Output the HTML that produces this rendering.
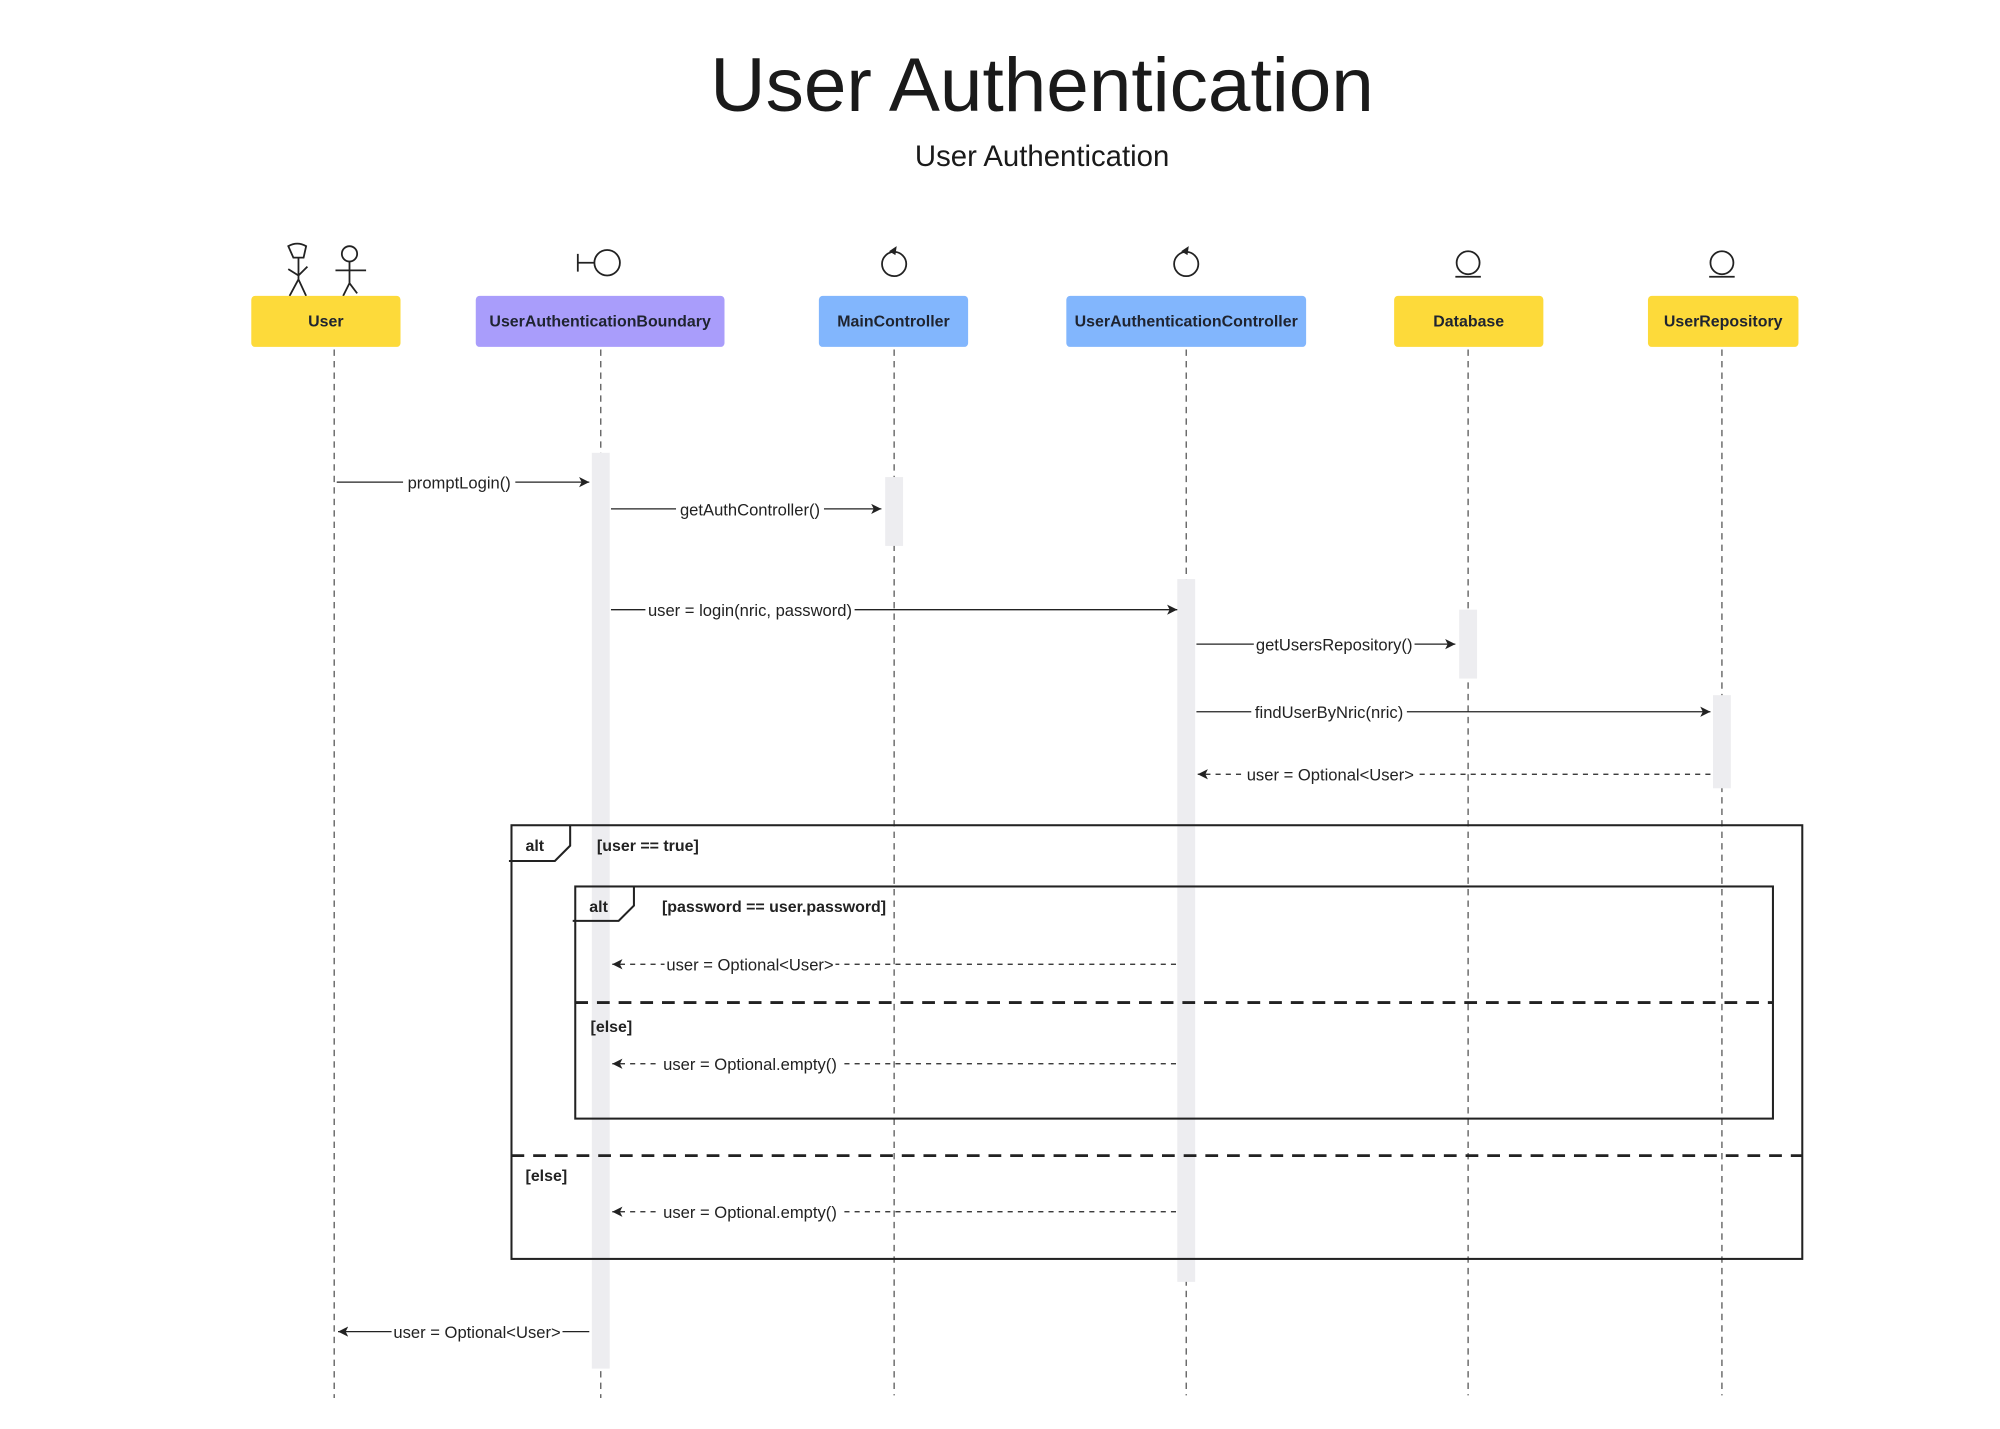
<!DOCTYPE html>
<html><head><meta charset="utf-8"><style>
html,body{margin:0;padding:0;background:#fff;}
svg{display:block;}
text{font-family:"Liberation Sans",sans-serif;fill:#222;}
.lbl{font-size:12.5px;font-weight:bold;text-anchor:middle;fill:#1f2430;}
.msg{font-size:13px;text-anchor:middle;}
.g{font-size:12.5px;font-weight:bold;}
</style></head><body>
<svg width="2000" height="1429" viewBox="0 0 1568 1120.35" xmlns="http://www.w3.org/2000/svg">
<defs>
<marker id="a" markerWidth="10" markerHeight="10" refX="8" refY="4" orient="auto" markerUnits="userSpaceOnUse"><path d="M0,0 L8,4 L0,8 L2,4 z" fill="#222"/></marker>
</defs>
<text x="817" y="87" font-size="60" text-anchor="middle" style="fill:#1a1a1a">User Authentication</text>
<text x="817" y="130" font-size="23" text-anchor="middle" style="fill:#1a1a1a">User Authentication</text>

<!-- icons -->
<g stroke="#222" stroke-width="1.4" fill="none">
<path d="M226,193 Q233,189 240,193 L238,202 L230,202 Z"/><path d="M234,202 V219 M226,211 L234,216 L241,209 M234,219 L227,232 M234,219 L240,232"/>
<circle cx="274" cy="199" r="6"/><path d="M274,205 V222 M263,212 H287 M274,222 L269,232 M274,222 L280,230"/>
<path d="M453,199 V213 M453,206 H466"/><circle cx="476" cy="206" r="10"/>
<circle cx="701" cy="207" r="9.5"/><circle cx="930" cy="207" r="9.5"/>
<circle cx="1151" cy="206" r="9"/><path d="M1141,217 H1161"/>
<circle cx="1350" cy="206" r="9"/><path d="M1340,217 H1360"/>
</g>
<path d="M697,197 L703,193 L702,200 Z" fill="#222"/><path d="M926,197 L932,193 L931,200 Z" fill="#222"/>

<!-- boxes -->
<rect x="197" y="232" width="117" height="40" rx="3" fill="#fdda3a"/>
<text class="lbl" x="255.5" y="256">User</text>
<rect x="373" y="232" width="195" height="40" rx="3" fill="#a99dfb"/>
<text class="lbl" x="470.5" y="256">UserAuthenticationBoundary</text>
<rect x="642" y="232" width="117" height="40" rx="3" fill="#82b6fd"/>
<text class="lbl" x="700.5" y="256">MainController</text>
<rect x="836" y="232" width="188" height="40" rx="3" fill="#82b6fd"/>
<text class="lbl" x="930" y="256">UserAuthenticationController</text>
<rect x="1093" y="232" width="117" height="40" rx="3" fill="#fdda3a"/>
<text class="lbl" x="1151.5" y="256">Database</text>
<rect x="1292" y="232" width="118" height="40" rx="3" fill="#fdda3a"/>
<text class="lbl" x="1351" y="256">UserRepository</text>

<!-- lifelines -->
<g stroke="#555" stroke-width="1" stroke-dasharray="5,4">
<path d="M262,274 V1096 M471,274 V1096 M701,274 V1094 M930,274 V1094 M1151,274 V1094 M1350,274 V1094"/>
</g>
<!-- activations -->
<g fill="#ededf0">
<rect x="464" y="355" width="14" height="718"/>
<rect x="694" y="374" width="14" height="54"/>
<rect x="923" y="454" width="14" height="551"/>
<rect x="1144" y="478" width="14" height="54"/>
<rect x="1343" y="545" width="14" height="73"/>
</g>

<!-- frames -->
<g fill="none" stroke="#222" stroke-width="1.6">
<rect x="401" y="647" width="1012" height="340"/>
<path d="M399,675 H435 L447,663 V647"/>
<rect x="451" y="695" width="939" height="182"/>
<path d="M449,722 H485 L497,710 V695"/>
<path d="M451,786 H1390 M401,906 H1413" stroke-width="2.2" stroke-dasharray="10,7"/>
</g>
<text class="g" x="412" y="667">alt</text>
<text class="g" x="468" y="667">[user == true]</text>
<text class="g" x="462" y="715">alt</text>
<text class="g" x="519" y="715">[password == user.password]</text>
<text class="g" x="463" y="809">[else]</text>
<text class="g" x="412" y="926">[else]</text>

<!-- messages -->
<g stroke="#222" stroke-width="1" fill="none">
<path d="M264,378 H462" marker-end="url(#a)"/>
<path d="M479,399 H691" marker-end="url(#a)"/>
<path d="M479,478 H923" marker-end="url(#a)"/>
<path d="M938,505 H1141" marker-end="url(#a)"/>
<path d="M938,558 H1341" marker-end="url(#a)"/>
<path d="M1341,607 H939" stroke-dasharray="4,4" marker-end="url(#a)"/>
<path d="M922,756 H480" stroke-dasharray="4,4" marker-end="url(#a)"/>
<path d="M922,834 H480" stroke-dasharray="4,4" marker-end="url(#a)"/>
<path d="M922,950 H480" stroke-dasharray="4,4" marker-end="url(#a)"/>
<path d="M462,1044 H265" marker-end="url(#a)"/>
</g>
<g>
<rect x="316" y="370" width="88" height="16" fill="#fff"/><text class="msg" x="360" y="383">promptLogin()</text>
<rect x="530" y="391" width="116" height="16" fill="#fff"/><text class="msg" x="588" y="404">getAuthController()</text>
<rect x="506" y="470" width="164" height="16" fill="#fff"/><text class="msg" x="588" y="483">user = login(nric, password)</text>
<rect x="983" y="497" width="126" height="16" fill="#fff"/><text class="msg" x="1046" y="510">getUsersRepository()</text>
<rect x="981" y="550" width="122" height="16" fill="#fff"/><text class="msg" x="1042" y="563">findUserByNric(nric)</text>
<rect x="976" y="599" width="134" height="16" fill="#fff"/><text class="msg" x="1043" y="612">user = Optional&lt;User&gt;</text>
<rect x="521" y="748" width="134" height="16" fill="#fff"/><text class="msg" x="588" y="761">user = Optional&lt;User&gt;</text>
<rect x="517" y="826" width="142" height="16" fill="#fff"/><text class="msg" x="588" y="839">user = Optional.empty()</text>
<rect x="517" y="942" width="142" height="16" fill="#fff"/><text class="msg" x="588" y="955">user = Optional.empty()</text>
<rect x="307" y="1036" width="134" height="16" fill="#fff"/><text class="msg" x="374" y="1049">user = Optional&lt;User&gt;</text>
</g>
</svg>
</body></html>
